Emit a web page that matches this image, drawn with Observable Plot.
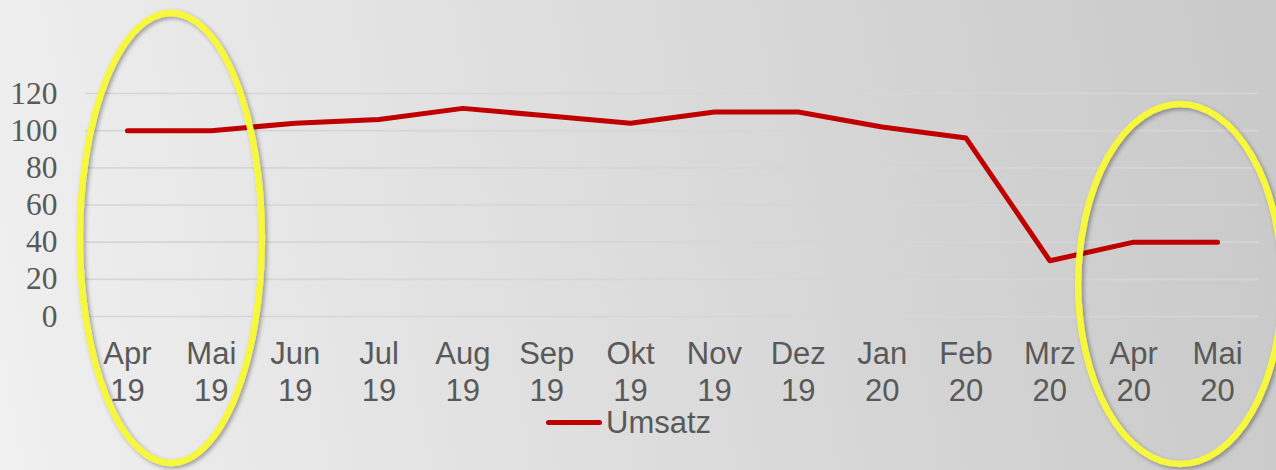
<!DOCTYPE html>
<html>
<head>
<meta charset="utf-8">
<script src="https://cdn.jsdelivr.net/npm/d3@7"></script>
<script src="https://cdn.jsdelivr.net/npm/@observablehq/plot@0.6"></script>
<style>
  html, body { margin: 0; padding: 0; }
  #wrap {
    position: relative; width: 1276px; height: 470px; overflow: hidden;
    background: linear-gradient(80deg, #f0f0f0 0%, #e6e6e6 25%, #dadada 55%, #d0d0d0 80%, #c9c9c9 100%);
  }
  #wrap svg { position: absolute; left: 0; top: 0; }
  #legend { position: absolute; left: 0; top: 0; width: 1276px; height: 470px; pointer-events: none; }
  #legend .ln { position: absolute; left: 546px; top: 420px; width: 56px; height: 5px; background: #c00000; border-radius: 3px; }
  #legend .tx { position: absolute; left: 606px; top: 411px; font: 31px/24px "Liberation Sans", Arial, sans-serif; color: #595959; white-space: nowrap; }
</style>
</head>
<body>
<div id="wrap"></div>
<script>
const months = ["Apr 19","Mai 19","Jun 19","Jul 19","Aug 19","Sep 19","Okt 19","Nov 19","Dez 19","Jan 20","Feb 20","Mrz 20","Apr 20","Mai 20"];
const umsatz = [100,100,104,106,112,108,104,110,110,102,96,30,40,40];
const yTicks = [0,20,40,60,80,100,120];
const seriesName = "Umsatz";
const highlighted = [["Apr 19","Mai 19"],["Apr 20","Mai 20"]];

const table = months.map((m, i) => ({month: m, value: umsatz[i]}));

const chart = Plot.plot({
  width: 1276,
  height: 470,
  marginLeft: 85,
  marginRight: 17,
  marginTop: 93,
  marginBottom: 154,
  style: {background: "transparent", overflow: "visible"},
  x: {type: "point", domain: months, padding: 0.5, round: false, axis: null},
  y: {domain: [0, 120], axis: null},
  marks: [
    Plot.ruleY(yTicks, {stroke: "#d6d6d6", strokeWidth: 1.6}),
    Plot.text(yTicks, {y: d => d, text: d => String(d), frameAnchor: "left", dx: -28, textAnchor: "end",
      fontFamily: "Liberation Serif", fontSize: 31.5, fill: "#595959"}),
    Plot.text(months, {x: d => d, text: d => d.replace(" ", "\n"), frameAnchor: "bottom", lineAnchor: "top",
      dy: 21, lineHeight: 1.2, fontFamily: "Liberation Sans", fontSize: 31, fill: "#595959"}),
    Plot.line(table, {x: "month", y: "value", stroke: "#c00000", strokeWidth: 5,
      strokeLinecap: "round", strokeLinejoin: "round"})
  ]
});

document.getElementById("wrap").appendChild(chart);

// Annotation ellipses placed from the chart's x scale
const xs = chart.scale("x");
const xpos = v => (xs.apply ? xs.apply(v) : 0);
const svg = d3.select(chart);
const defs = svg.append("defs");
const f = defs.append("filter").attr("id", "shadow").attr("x", "-20%").attr("y", "-20%").attr("width", "140%").attr("height", "140%");
f.append("feDropShadow").attr("dx", 2).attr("dy", 2).attr("stdDeviation", 2).attr("flood-color", "#000").attr("flood-opacity", 0.35);

const ellipseSpecs = [
  {pair: highlighted[0], dxc: 2, rx: 91, cy: 238, ry: 225},
  {pair: highlighted[1], dxc: 5, rx: 102, cy: 284, ry: 180}
];
ellipseSpecs.forEach(e => {
  const cx = (xpos(e.pair[0]) + xpos(e.pair[1])) / 2 + e.dxc;
  svg.append("ellipse")
    .attr("cx", cx).attr("cy", e.cy).attr("rx", e.rx).attr("ry", e.ry)
    .attr("fill", "none").attr("stroke", "#f7f73c").attr("stroke-width", 6.5)
    .attr("filter", "url(#shadow)");
});

// Legend
const lg = document.createElement("div");
lg.id = "legend";
lg.innerHTML = '<div class="ln"></div><div class="tx"></div>';
lg.querySelector(".tx").textContent = seriesName;
document.getElementById("wrap").appendChild(lg);
</script>
</body>
</html>
